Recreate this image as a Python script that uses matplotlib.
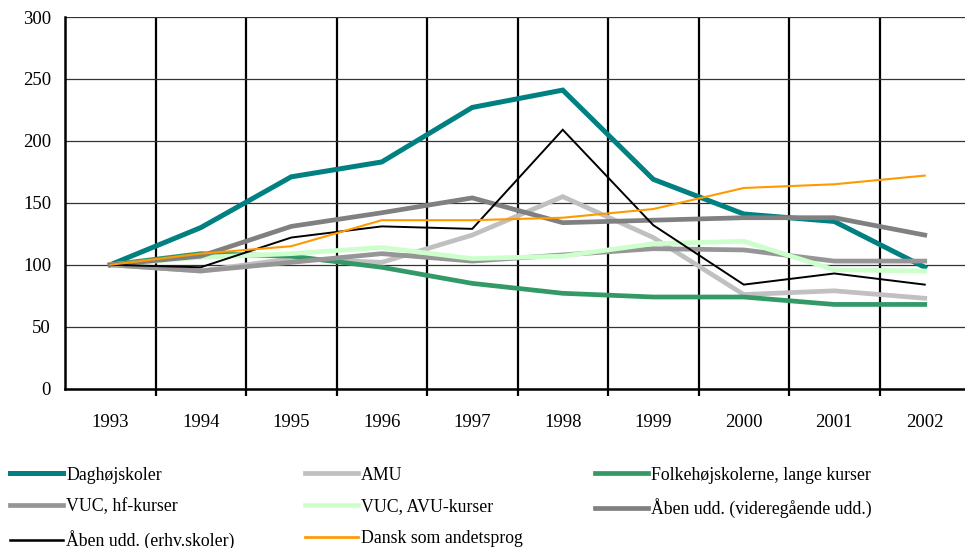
import numpy as np
import matplotlib
matplotlib.use('Agg')
import matplotlib.pyplot as plt
from matplotlib.ticker import FixedLocator

years = ['1993', '1994', '1995', '1996', '1997', '1998', '1999', '2000', '2001', '2002']

daghojskoler = [100, 130, 171, 183, 227, 241, 169, 141, 135, 98]
amu = [100, 95, 105, 102, 124, 155, 122, 76, 79, 73]
folkehojskoler = [100, 109, 107, 98, 85, 77, 74, 74, 68, 68]
vuc_hf = [100, 95, 102, 109, 103, 108, 113, 112, 103, 103]
vuc_avu = [100, 106, 109, 114, 105, 107, 117, 119, 96, 95]
aaben_vid = [100, 107, 131, 142, 154, 134, 136, 138, 138, 124]
aaben_erhv = [100, 98, 122, 131, 129, 209, 132, 84, 93, 84]
dansk = [100, 109, 115, 136, 136, 138, 145, 162, 165, 172]

series = [
    ('Daghøjskoler', daghojskoler, '#008080', 3.6),
    ('AMU', amu, '#c0c0c0', 3.4),
    ('Folkehøjskolerne, lange kurser', folkehojskoler, '#339966', 3.4),
    ('VUC, hf-kurser', vuc_hf, '#969696', 3.4),
    ('VUC, AVU-kurser', vuc_avu, '#ccffcc', 3.4),
    ('Åben udd. (videregående udd.)', aaben_vid, '#808080', 3.4),
    ('Åben udd. (erhv.skoler)', aaben_erhv, '#000000', 1.4),
    ('Dansk som andetsprog', dansk, '#ff9900', 1.5),
]

plt.rcParams['font.family'] = ['Liberation Serif', 'DejaVu Serif']
plt.rcParams['font.size'] = 13.5

fig = plt.figure(figsize=(9.65, 5.48), dpi=100)
ax = fig.add_axes([65 / 965, 1 - 388.7 / 548, 905 / 965, 371.7 / 548])

x = np.arange(len(years))
for label, vals, color, lw in series:
    ax.plot(x, vals, color=color, lw=lw, label=label,
            solid_joinstyle='miter', zorder=3)

ax.set_xlim(-0.5, len(years) - 0.5)
ax.set_ylim(0, 300)
ax.set_yticks(np.arange(0, 301, 50))
ax.set_xticks(x)
ax.set_xticklabels(years)
ax.xaxis.set_minor_locator(FixedLocator(np.arange(0.5, len(years) - 0.5, 1.0)))

ax.grid(axis='y', which='major', color='#333333', lw=0.9, zorder=1)
ax.grid(axis='x', which='minor', color='black', lw=1.6, zorder=1)
ax.tick_params(axis='x', which='major', length=0, pad=18)
ax.tick_params(axis='x', which='minor', length=5, width=1.6, color='black')
ax.tick_params(axis='y', length=0, pad=10)

for side in ['top', 'right']:
    ax.spines[side].set_visible(False)
ax.spines['left'].set_linewidth(1.8)
ax.spines['bottom'].set_linewidth(1.8)

# legend in three fixed columns, filled row by row
columns = [[0, 3, 6], [1, 4, 7], [2, 5]]
col_x = [10, 305, 595]
for idx, cx in zip(columns, col_x):
    hs = []
    for i in idx:
        label, vals, color, lw = series[i]
        hs.append(plt.Line2D([], [], color=color, lw=lw if lw > 2 else lw * 1.3))
    fig.legend(hs, [series[i][0] for i in idx], loc='upper left',
               bbox_to_anchor=(cx / 965, 1 - 466.5 / 548), frameon=False,
               borderpad=0, borderaxespad=0, handlelength=3.0,
               handletextpad=0.15, labelspacing=0.83, fontsize=12.8)

fig.savefig('out.png', dpi=100)
